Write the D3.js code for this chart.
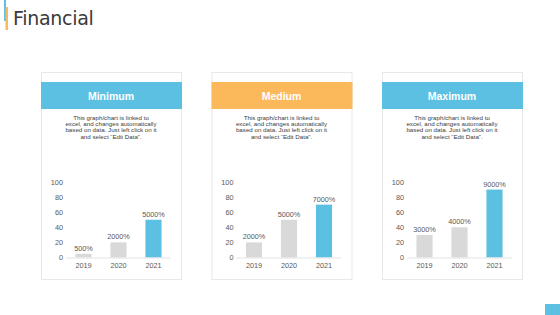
<!DOCTYPE html>
<html>
<head>
<meta charset="utf-8">
<script src="https://cdn.jsdelivr.net/npm/d3@7"></script>
<style>
  body { margin: 0; background: #fff; }
  svg { display: block; font-family: "Liberation Sans", Arial, sans-serif; }
</style>
</head>
<body>
<div id="chart"></div>
<script>
// chart data
const years = ["2019", "2020", "2021"];
const panelTitles = ["Minimum", "Medium", "Maximum"];
const minimumValues = [5, 20, 50];
const mediumValues = [20, 50, 70];
const maximumValues = [30, 40, 90];
const yTicks = [0, 20, 40, 60, 80, 100];
const description = [
  "This graph/chart is linked to",
  "excel, and changes automatically",
  "based on data. Just left click on it",
  "and select \u201cEdit Data\u201d."
];

const panels = [
  { title: panelTitles[0], values: minimumValues, color: "#5BC0E1" },
  { title: panelTitles[1], values: mediumValues, color: "#FBB95B" },
  { title: panelTitles[2], values: maximumValues, color: "#5BC0E1" },
];

const W = 560, H = 315;
const svg = d3.select("#chart").append("svg")
  .attr("width", W).attr("height", H);

// title + accent bars
svg.append("rect").attr("x", 4).attr("y", 0).attr("width", 2).attr("height", 21).attr("fill", "#5BC0E1");
svg.append("rect").attr("x", 5.5).attr("y", 7).attr("width", 2.5).attr("height", 23).attr("fill", "#FBB95B");
svg.append("text")
  .attr("x", 13).attr("y", 25)
  .attr("font-size", 19)
  .attr("fill", "#3a3a3a")
  .style("font-family", "'DejaVu Sans', sans-serif")
  .style("letter-spacing", "-0.3px")
  .text("Financial");

// corner square
svg.append("rect").attr("x", 545).attr("y", 304).attr("width", 15).attr("height", 11).attr("fill", "#5BC0E1");

const cardW = 140, cardTop = 72, cardBottom = 279;
const cardX = [41, 211.5, 382];

panels.forEach((p, i) => {
  const g = svg.append("g").attr("transform", `translate(${cardX[i]},0)`);

  // card
  g.append("rect")
    .attr("x", 0.5).attr("y", cardTop + 0.5)
    .attr("width", cardW).attr("height", cardBottom - cardTop)
    .attr("fill", "#fff")
    .attr("stroke", "#E8E8E8");

  // header band
  g.append("rect")
    .attr("x", 0).attr("y", 82)
    .attr("width", cardW + 1).attr("height", 27)
    .attr("fill", p.color);
  g.append("text")
    .attr("x", cardW / 2).attr("y", 99.5)
    .attr("text-anchor", "middle")
    .attr("font-size", 10.5)
    .attr("font-weight", "bold")
    .attr("fill", "#fff")
    .text(p.title);

  // description
  g.append("g").selectAll("text")
    .data(description)
    .join("text")
    .attr("x", cardW / 2)
    .attr("y", (d, k) => 119.5 + k * 6.4)
    .attr("text-anchor", "middle")
    .attr("font-size", 6.2)
    .attr("fill", "#404040")
    .text(d => d);

  // scales
  const x = d3.scaleBand().domain(years).range([25, 130]).paddingInner(0.54).paddingOuter(0.27);
  const y = d3.scaleLinear().domain([0, 100]).range([257.5, 182]);

  // y axis labels
  const yAxis = g.append("g")
    .attr("transform", "translate(22,0)")
    .call(d3.axisLeft(y).tickValues(yTicks).tickSize(0).tickPadding(0));
  yAxis.select(".domain").remove();
  yAxis.selectAll("text").attr("font-size", 7.3).attr("fill", "#595959")
    .style("font-family", "'Liberation Sans', Arial, sans-serif");

  // bars
  g.selectAll(".bar")
    .data(p.values)
    .join("rect")
    .attr("class", "bar")
    .attr("x", (d, k) => x(years[k]))
    .attr("width", x.bandwidth())
    .attr("y", d => y(d))
    .attr("height", d => y(0) - y(d))
    .attr("fill", (d, k) => k === 2 ? "#5BC0E1" : "#D9D9D9");

  // value labels
  g.selectAll(".val")
    .data(p.values)
    .join("text")
    .attr("class", "val")
    .attr("x", (d, k) => x(years[k]) + x.bandwidth() / 2)
    .attr("y", d => y(d) - 3)
    .attr("text-anchor", "middle")
    .attr("font-size", 7.3)
    .attr("fill", "#595959")
    .text(d => (d * 100) + "%");

  // x axis
  const xAxis = g.append("g")
    .attr("transform", `translate(0,${y(0)})`)
    .call(d3.axisBottom(x).tickSize(0).tickPadding(5));
  xAxis.select(".domain").attr("stroke", "#E3E3E3").attr("d", "M25,0.5H130");
  xAxis.selectAll("text").attr("font-size", 7.3).attr("fill", "#595959")
    .style("font-family", "'Liberation Sans', Arial, sans-serif");
});
</script>
</body>
</html>
